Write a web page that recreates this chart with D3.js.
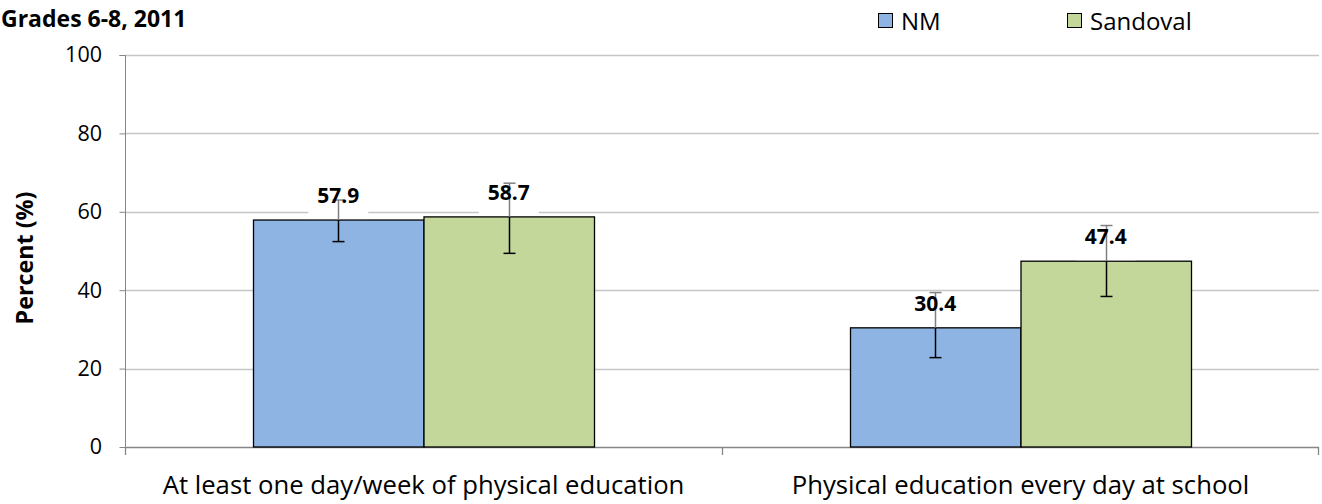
<!DOCTYPE html>
<head>
  <meta charset="utf-8">
  <script src="https://d3js.org/d3.v7.min.js"></script>
  <style>
    body { margin:0; background:#fff; }
    text { font-family: "Open Sans", "Noto Sans", sans-serif; }
  </style>
</head>
<body>
  <script>
    var categories = ["At least one day/week of physical education", "Physical education every day at school"];
    var series = ["NM", "Sandoval"];
    var colors = ["#8EB4E3", "#C4D79B"];
    var values = {NM: [57.9, 30.4], Sandoval: [58.7, 47.4]};
    var lower = {NM: [52.4, 22.8], Sandoval: [49.4, 38.4]};
    var upper = {NM: [63.0, 39.4], Sandoval: [67.3, 56.5]};
    var yTicks = [0, 20, 40, 60, 80, 100];

    var width = 1322, height = 504;
    var plotL = 125, plotR = 1319, plotT = 55, plotB = 447;

    var svg = d3.select("body").append("svg")
      .attr("width", width)
      .attr("height", height)

    var y = d3.scaleLinear().domain([0, 100]).range([plotB, plotT]);
    var x0 = d3.scaleBand().domain(categories).range([plotL, plotR]).padding(0);
    var x1 = d3.scaleBand().domain(series).range([0, 341]);
    var groupOffset = (x0.bandwidth() - 341) / 2;

    // gridlines
    svg.append("g").selectAll("line").data(yTicks).enter().append("line")
      .attr("x1", plotL).attr("x2", plotR)
      .attr("y1", d => Math.round(y(d)) + 0.5).attr("y2", d => Math.round(y(d)) + 0.5)
      .attr("stroke", d => d === 0 ? "#868686" : "#c6c6c6").attr("stroke-width", 1.3)

    // y axis
    var yAxis = svg.append("g").attr("transform", "translate(" + (plotL + 0.5) + ",0)")
      .call(d3.axisLeft(y).tickValues(yTicks).tickSize(6).tickPadding(17.5))
    yAxis.select(".domain").attr("stroke", "#868686").attr("d", "M-6," + (plotT + 0.5) + "H0V" + (plotB + 0.5))
    yAxis.selectAll(".tick line").attr("stroke", "#868686")
    yAxis.selectAll(".tick text").attr("font-size", 21.5).attr("fill", "#000")
      .style("font-family", "'Open Sans', sans-serif")

    // category ticks
    svg.append("g").selectAll("line").data([plotL, plotL + x0.bandwidth(), plotR - 1]).enter().append("line")
      .attr("x1", d => Math.round(d) + 0.5).attr("x2", d => Math.round(d) + 0.5)
      .attr("y1", plotB).attr("y2", plotB + 8)
      .attr("stroke", "#868686").attr("stroke-width", 1.3)

    svg.append("g").selectAll("text").data(categories).enter().append("text")
      .attr("x", d => x0(d) + groupOffset + 170.5)
      .attr("y", 494)
      .attr("text-anchor", "middle")
      .attr("font-size", 25.7)
      .text(d => d)

    var bars = [];
    categories.forEach(function(c, i) {
      series.forEach(function(s, j) {
        bars.push({cat: c, s: s, j: j, v: values[s][i], lo: lower[s][i], hi: upper[s][i]});
      });
    });
    var bx = d => x0(d.cat) + groupOffset + x1(d.s);

    svg.append("g").selectAll("rect").data(bars).enter().append("rect")
      .attr("x", d => bx(d) + 0.5)
      .attr("y", d => y(d.v))
      .attr("width", x1.bandwidth())
      .attr("height", d => plotB - y(d.v))
      .attr("fill", d => colors[d.j])
      .attr("stroke", "#000").attr("stroke-width", 1.3)

    // label backgrounds
    svg.append("g").selectAll("rect").data(bars).enter().append("rect")
      .attr("x", d => bx(d) + x1.bandwidth() / 2 - 30)
      .attr("y", d => y(d.v) - 34)
      .attr("width", 60)
      .attr("height", d => 33)
      .attr("fill", "#fff")

    // error bars
    var err = svg.append("g");
    bars.forEach(function(d) {
      var cx = Math.round(bx(d) + x1.bandwidth() / 2) + 0.5;
      var barTop = y(d.v);
      err.append("line").attr("x1", cx).attr("x2", cx).attr("y1", y(d.hi)).attr("y2", barTop)
        .attr("stroke", "#808080").attr("stroke-width", 1.5);
      err.append("line").attr("x1", cx).attr("x2", cx).attr("y1", barTop).attr("y2", y(d.lo))
        .attr("stroke", "#000").attr("stroke-width", 1.5);
      err.append("line").attr("x1", cx - 6).attr("x2", cx + 6).attr("y1", y(d.hi)).attr("y2", y(d.hi))
        .attr("stroke", "#808080").attr("stroke-width", 1.5);
      err.append("line").attr("x1", cx - 6).attr("x2", cx + 6).attr("y1", y(d.lo)).attr("y2", y(d.lo))
        .attr("stroke", "#000").attr("stroke-width", 1.5);
    });

    svg.append("g").selectAll("text").data(bars).enter().append("text")
      .attr("x", d => bx(d) + x1.bandwidth() / 2)
      .attr("y", d => y(d.v) - 17)
      .attr("text-anchor", "middle")
      .attr("font-size", 21)
      .attr("font-weight", "bold")
      .text(d => d.v.toFixed(1))

    svg.append("text").attr("x", 1).attr("y", 27)
      .attr("font-size", 23).attr("font-weight", "bold")
      .text("Grades 6-8, 2011")

    svg.append("text")
      .attr("transform", "translate(33,258)rotate(-90)")
      .attr("text-anchor", "middle")
      .attr("font-size", 23.3).attr("font-weight", "bold")
      .text("Percent (%)")

    // legend
    var legendX = [878, 1067];
    var lg = svg.append("g").selectAll("g").data(series).enter().append("g")
      .attr("transform", (d, i) => "translate(" + legendX[i] + ",13)")
    lg.append("rect").attr("x", 0.5).attr("y", 0.5).attr("width", 14).attr("height", 14)
      .attr("fill", (d, i) => colors[i]).attr("stroke", "#000").attr("stroke-width", 1)
    lg.append("text").attr("x", 23).attr("y", 17).attr("font-size", 24).text(d => d)
  </script>
</body>
</html>
